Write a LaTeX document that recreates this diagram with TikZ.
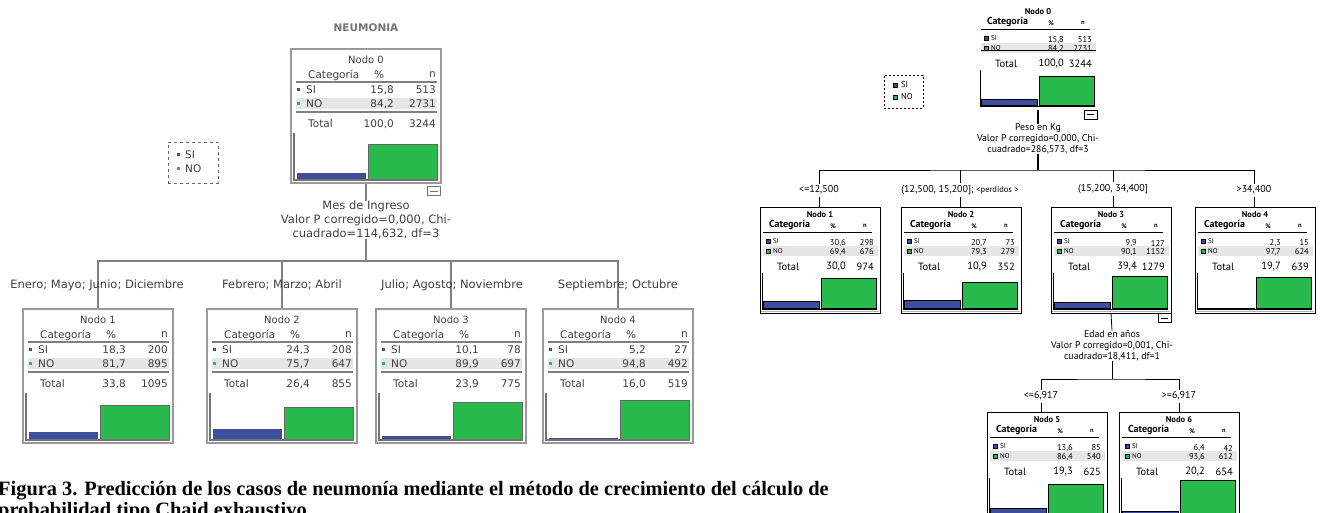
\documentclass[tikz,border=0pt]{standalone}
\usepackage{fontspec}
\setmainfont{Liberation Serif}
\newfontfamily\spssold{DejaVu Sans}
\newfontfamily\spssnew{PT Sans}

\definecolor{siblue}{RGB}{62,78,158}
\definecolor{nogreen}{RGB}{40,186,76}
\definecolor{rowgray}{RGB}{230,230,230}

\tikzset{
  lbox/.style={draw=black!40, line width=1.6pt, minimum width=150pt, minimum height=134pt, inner sep=0pt},
  rbox/.style={line width=0.8pt, minimum width=120pt, minimum height=106pt, inner sep=0pt},
  ltxt/.style={font=\spssold\fontsize{10.5}{14}\selectfont, text=black!75, inner sep=0pt},
  lsplit/.style={font=\spssold\fontsize{11.5}{14}\selectfont, text=black!75, inner sep=0pt},
  rtxt/.style={font=\spssnew\fontsize{8.5}{11}\selectfont, inner sep=0pt},
  rsplit/.style={font=\spssnew\fontsize{9.8}{11}\selectfont, inner sep=0pt},
  rtitle/.style={font=\spssnew\bfseries\fontsize{8.5}{10}\selectfont, inner sep=0pt},
  rhead/.style={font=\spssnew\bfseries\fontsize{10}{12}\selectfont, inner sep=0pt},
  rsmall/.style={font=\spssnew\bfseries\fontsize{6.5}{8}\selectfont, inner sep=0pt},
  rrow/.style={font=\spssnew\fontsize{7}{9}\selectfont, inner sep=0pt},
  rtot/.style={font=\spssnew\fontsize{10.5}{12}\selectfont, inner sep=0pt},
  rlab/.style={font=\spssnew\fontsize{10}{11}\selectfont, inner sep=2pt},
  lline/.style={draw=black!50, line width=1.2pt},
  rline/.style={draw=black, line width=0.8pt},
  rthick/.style={draw=black, line width=2pt},
  minusbox/.style={draw, fill=white, minimum width=13pt, minimum height=9pt, inner sep=0pt},
}

\begin{document}
\begin{tikzpicture}[x=1pt,y=-1pt]
\useasboundingbox (0,0) rectangle (1320,512);
\clip (0,0) rectangle (1320,512);

% caption
\node[anchor=base west, inner sep=0pt, font=\bfseries\fontsize{20.4}{22}\selectfont] (cap1) at (-2,495)
  {Figura 3. Predicción de los casos de neumonía mediante el método de crecimiento del cálculo de};
\node[anchor=base west, inner sep=0pt, font=\bfseries\fontsize{20.4}{22}\selectfont] (cap2) at (-2,516)
  {probabilidad tipo Chaid exhaustivo.};

% ---- old tree (left)
\node[ltxt, font=\spssold\bfseries\fontsize{10.5}{12}\selectfont, text=black!55] (ltitle) at (366,28) {NEUMONIA};

\foreach \nm/\cx/\ty/\nr/\siP/\siN/\noP/\noN/\toP/\toN/\bh/\gh in {
  l0/366/49/0/{15,8}/513/{84,2}/2731/{100,0}/3244/7/36,
  l1/98/309/1/{18,3}/200/{81,7}/895/{33,8}/1095/8/35,
  l2/282/309/2/{24,3}/208/{75,7}/647/{26,4}/855/11/33,
  l3/451/309/3/{10,1}/78/{89,9}/697/{23,9}/775/4/38,
  l4/618/309/4/{5,2}/27/{94,8}/492/{16,0}/519/2/40}
{
  \begin{scope}[shift={(\cx-75,\ty)}]
    \node[lbox] (\nm) at (75,67) {};
    \fill[rowgray] (5,49) rectangle (146,60);
    \node[ltxt, font=\spssold\fontsize{10}{12}\selectfont] at (75,11) {Nodo \nr};
    \node[ltxt, anchor=west] at (17,26) {Categoría};
    \node[ltxt] at (88,26) {\%};
    \node[ltxt, anchor=east] at (145,26) {n};
    \draw[lline] (5,33) -- (146,33);
    \fill[siblue] (6,39) rectangle (9,42);
    \node[ltxt, anchor=west] at (15,41) {SI};
    \node[ltxt, anchor=east] at (103,41) {\siP};
    \node[ltxt, anchor=east] at (145,41) {\siN};
    \fill[nogreen] (6,53) rectangle (9,56);
    \node[ltxt, anchor=west] at (15,55) {NO};
    \node[ltxt, anchor=east] at (103,55) {\noP};
    \node[ltxt, anchor=east] at (145,55) {\noN};
    \draw[lline] (5,63) -- (146,63);
    \node[ltxt, anchor=west] at (17,75) {Total};
    \node[ltxt, anchor=east] at (103,75) {\toP};
    \node[ltxt, anchor=east] at (145,75) {\toN};
    \fill[siblue] (6,131-\bh) rectangle (75,130);
    \draw[black!60, fill=nogreen] (77,131-\gh) rectangle (146,130);
    \draw[black!55, line width=1.5pt] (3,84) -- (3,131) -- (147,131);
  \end{scope}
}

\node[minusbox, draw=black!55] (l0minus) at (434,191) {};
\draw[black!55] ([xshift=3pt]l0minus.west) -- ([xshift=-3pt]l0minus.east);
\node[lsplit, align=center] (l0split) at (366,220)
  {Mes de Ingreso\\Valor P corregido=0,000, Chi-\\cuadrado=114,632, df=3};
\coordinate (lbus) at (366,261);
\draw[lline] (l0.south) -- (l0split.north);
\draw[lline] (l0split.south) -- (lbus);
\draw[lline] (l1.north) |- (lbus) -| (l4.north);
\draw[lline] (l2.north) -- (l2.north |- lbus);
\draw[lline] (l3.north) -- (l3.north |- lbus);
\node[lsplit] (l1lab) at (97,285) {Enero; Mayo; Junio; Diciembre};
\node[lsplit] (l2lab) at (282,285) {Febrero; Marzo; Abril};
\node[lsplit] (l3lab) at (452,285) {Julio; Agosto; Noviembre};
\node[lsplit] (l4lab) at (618,285) {Septiembre; Octubre};

% legend
\node[draw=black!60, dashed, line width=1pt, minimum width=50pt, minimum height=41pt] (lleg) at (193,162.5) {};
\fill[siblue] (177,153) rectangle (180,156);
\node[ltxt, anchor=west] (llegsi) at (185,155) {SI};
\fill[nogreen] (177,167) rectangle (180,170);
\node[ltxt, anchor=west] (llegno) at (185,169) {NO};

% ---- new tree (right)
\foreach \nm/\cx/\ty/\nr/\fr/\siP/\siN/\noP/\noN/\toP/\toN/\bh/\gh in {
  r0/1038/4/0/none/{15,8}/513/{84,2}/2731/{100,0}/3244/7/30,
  r1/820/207/1/black/{30,6}/298/{69,4}/676/{30,0}/974/8/31,
  r2/961/207/2/black/{20,7}/73/{79,3}/279/{10,9}/352/9/27,
  r3/1111/207/3/black/{9,9}/127/{90,1}/1152/{39,4}/1279/7/33,
  r4/1255/207/4/black/{2,3}/15/{97,7}/624/{19,7}/639/1/32,
  r5/1047/412/5/black/{13,6}/85/{86,4}/540/{19,3}/625/6/30,
  r6/1179/412/6/black/{6,4}/42/{93,6}/612/{20,2}/654/3/34}
{
  \begin{scope}[shift={(\cx-60,\ty)}]
    \node[rbox, draw=\fr] (\nm) at (60,53) {};
    \fill[rowgray] (3,39) rectangle (118,49);
    \node[rtitle] at (60,8) {Nodo \nr};
    \node[rhead, anchor=west] at (9,18) {Categoría};
    \node[rsmall] at (73,19) {\%};
    \node[rsmall] at (105,19) {n};
    \draw[rline] (3,25) -- (112,25);
    \draw[fill=siblue, line width=0.5pt] (6,32) rectangle (10,36);
    \node[rrow, anchor=west] at (13,34) {SI};
    \node[rtxt, anchor=east] at (86,36) {\siP};
    \node[rtxt, anchor=east] at (114,36) {\siN};
    \draw[fill=nogreen, line width=0.5pt] (6,42) rectangle (10,46);
    \node[rrow, anchor=west] at (13,44) {NO};
    \node[rtxt, anchor=east] at (86,45) {\noP};
    \node[rtxt, anchor=east] at (114,45) {\noN};
    \node[rtot, anchor=west] at (17,60) {Total};
    \node[rtot, anchor=east] at (86,60) {\toP};
    \node[rtot, anchor=east] at (114,60) {\toN};
    \draw[fill=siblue, line width=0.6pt] (3,102-\bh) rectangle (59,101.5);
    \draw[fill=nogreen, line width=0.6pt] (61,102-\gh) rectangle (116,101.5);
    \draw[rline] (2,66) -- (2,102) -- (117,102);
  \end{scope}
}
\draw[rline] (981,50) -- (1096,50);
\draw[gray!60, line width=1pt] (761,311) -- (879,311) (902,311) -- (1020,311)
  (1052,311) -- (1170,311) (1196,311) -- (1314,311);

\node[minusbox] (r0minus) at (1090.5,114.5) {};
\draw ([xshift=3pt]r0minus.west) -- ([xshift=-3pt]r0minus.east);
\node[minusbox] (r3minus) at (1164.5,318) {};
\draw ([xshift=3pt]r3minus.west) -- ([xshift=-3pt]r3minus.east);

\node[rsplit, align=center] (r0split) at (1038,139)
  {Peso en Kg\\Valor P corregido=0,000, Chi-\\cuadrado=286,573, df=3};
\coordinate (rbus) at (1038,170);
\draw[rthick] (r0.south) -- (r0split.north);
\draw[rthick] (r0split.south) -- (rbus);
\node[rlab] (r1lab) at (819,190) {<=12,500};
\node[rlab] (r2lab) at (960,190) {(12,500, 15,200];\ {\fontsize{8.5}{9}\selectfont <perdidos >}};
\node[rlab] (r3lab) at (1113,189) {(15,200, 34,400]};
\node[rlab] (r4lab) at (1254,190) {>34,400};
\draw[rline] (r1lab.north) |- (rbus) -| (r4lab.north);
\draw[rline] (r2lab.north) -- (r2lab.north |- rbus);
\draw[rline] (r3lab.north) -- (r3lab.north |- rbus);
\foreach \i in {1,...,4}
  \draw[rline] (r\i lab.south) -- (r\i lab.south |- r\i.north);

\node[rsplit, align=center] (r3split) at (1112,346)
  {Edad en años\\Valor P corregido=0,001, Chi-\\cuadrado=18,411, df=1};
\coordinate (r3bus) at (1112,379);
\draw[rline] (r3.south) -- (r3split.north);
\draw[rline] (r3split.south) -- (r3bus);
\node[rlab] (r5lab) at (1041,396) {<=6,917};
\node[rlab] (r6lab) at (1179,396) {>=6,917};
\draw[rline] (r5lab.north) |- (r3bus) -| (r6lab.north);
\draw[rline] (r5lab.south) -- (r5lab.south |- r5.north);
\draw[rline] (r6lab.south) -- (r6lab.south |- r6.north);

% legend
\node[draw, dashed, dash pattern=on 2pt off 2pt, line width=0.6pt, minimum width=39pt, minimum height=33pt] (rleg) at (903.5,91.5) {};
\draw[fill=siblue, line width=0.5pt] (893,83) rectangle (897,87);
\node[rrow, anchor=west, font=\spssnew\fontsize{8.5}{10}\selectfont] (rlegsi) at (901,85) {SI};
\draw[fill=nogreen, line width=0.5pt] (893,95) rectangle (897,99);
\node[rrow, anchor=west, font=\spssnew\fontsize{8.5}{10}\selectfont] (rlegno) at (901,97) {NO};
\end{tikzpicture}
\end{document}
